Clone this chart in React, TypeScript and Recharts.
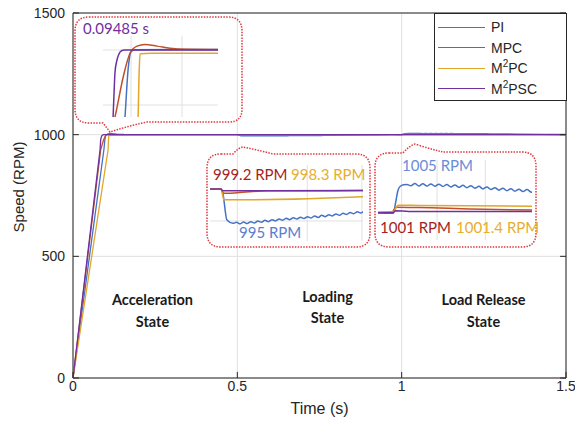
import React from 'react';
import { LineChart, Line, XAxis, YAxis, CartesianGrid, ReferenceLine, ReferenceArea } from 'recharts';

// speed traces, [time (s), speed (RPM)]
const piSpeed: [number, number][] = [
    [0, 0], [0.0941, 939.1], [0.0971, 982], [0.1, 998.5], [0.1039, 1000.3], [0.1853, 1000.4], [0.3, 1000], [0.5, 1000],
    [0.503, 999.6], [0.511, 995.44], [0.522, 994.95],
    [0.5285, 995.09], [0.535, 994.87], [0.5415, 995.13], [0.548, 994.91], [0.5545, 995.18], [0.561, 994.99],
    [0.5675, 995.28], [0.574, 995.1], [0.5805, 995.39], [0.587, 995.2], [0.5935, 995.49], [0.6, 995.31],
    [0.6065, 995.6], [0.613, 995.41], [0.6195, 995.69], [0.626, 995.49], [0.6325, 995.77], [0.639, 995.57],
    [0.6455, 995.85], [0.652, 995.65], [0.6585, 995.93], [0.665, 995.74], [0.6715, 996.02], [0.678, 995.82],
    [0.6845, 996.12], [0.691, 995.93], [0.6975, 996.22], [0.704, 996.04], [0.7105, 996.33], [0.717, 996.14],
    [0.7235, 996.44], [0.73, 996.25], [0.7365, 996.54], [0.743, 996.36], [0.7495, 996.65], [0.756, 996.46],
    [0.7625, 996.76], [0.85, 998.3], [0.93, 999.5], [0.97, 999.8], [0.99, 999.7], [1.0, 999.7],
    [1.004, 1001.5], [1.009, 1003.9], [1.0129, 1004.6], [1.02, 1004.9], [1.0265, 1004.95],
    [1.034, 1004.74], [1.0418, 1005.13], [1.0496, 1004.71], [1.0574, 1005.1], [1.0652, 1004.68], [1.073, 1005.07],
    [1.0808, 1004.66], [1.0886, 1005.03], [1.0964, 1004.6], [1.1042, 1004.96], [1.112, 1004.52], [1.1198, 1004.89],
    [1.1276, 1004.45], [1.1354, 1004.82], [1.1432, 1004.38], [1.151, 1004.74], [1.1588, 1004.28], [1.1666, 1004.62],
    [1.1744, 1004.16], [1.1822, 1004.5], [1.19, 1004.04], [1.1978, 1004.39], [1.2056, 1003.93], [1.2134, 1004.27],
    [1.2212, 1003.83], [1.229, 1004.19], [1.2368, 1003.75], [1.2446, 1004.11], [1.2524, 1003.67], [1.2602, 1004.03],
    [1.268, 1003.59], [1.35, 1002.5], [1.43, 1001.2], [1.5, 1000.6],
];

const mpcSpeed: [number, number][] = [
    [0, 0], [0.0843, 939.1], [0.0863, 948], [0.0922, 975], [0.099, 997], [0.1059, 1003.5], [0.1137, 1005],
    [0.1255, 1003.5], [0.1382, 1001.5], [0.1549, 1000.6], [0.1853, 1000.4], [0.3, 1000], [0.5, 1000],
    [0.504, 999.37], [0.53, 999.45], [0.584, 999.75], [0.97, 999.8], [0.997, 999.9], [1.005, 1000.8],
    [1.05, 1000.75], [1.15, 1000.5], [1.27, 1000.3], [1.5, 1000.1],
];

const m2pcSpeed: [number, number][] = [
    [0, 0], [0.1069, 939.1], [0.1078, 975], [0.1088, 996.6], [0.12, 997], [0.1853, 997], [0.3, 999.7], [0.5, 1000],
    [0.5056, 998.4], [0.76, 998.87], [0.9, 999.6], [0.97, 999.95], [1.0, 1000], [1.009, 1001.2],
    [1.05, 1001.15], [1.27, 1001.0], [1.5, 1000.4],
];

const m2pscSpeed: [number, number][] = [
    [0, 0], [0.0824, 939.1], [0.0833, 960], [0.0843, 980], [0.086, 990], [0.088, 996], [0.091, 999.5], [0.094, 1000],
    [0.5, 1000], [0.503, 999.75], [0.97, 999.8], [1.0, 999.85], [1.004, 1000.18], [1.03, 1000.05], [1.5, 1000],
];

const timeTicks = [0, 0.5, 1, 1.5];
const speedTicks = [0, 500, 1000, 1500];

const toPoints = (s: [number, number][]) => s.map(([t, v]) => ({ t, v }));

const series = [
    { name: 'PI', color: '#4472C4', points: toPoints(piSpeed) },
    { name: 'MPC', color: '#C0502A', points: toPoints(mpcSpeed) },
    { name: 'M2PC', color: '#E2A62A', points: toPoints(m2pcSpeed) },
    { name: 'M2PSC', color: '#7030A0', points: toPoints(m2pscSpeed) },
];

const AXIS = '#262626';
const GRID = '#e0e0e0';
const RED = '#E0393E';
const axisFont = { fill: AXIS, fontSize: 14, fontFamily: '"Liberation Sans", Arial, sans-serif' };

function Inset({ left, top, width, height, xDomain, yDomain, xGrid, yGrid }: {
    left: number; top: number; width: number; height: number;
    xDomain: [number, number]; yDomain: [number, number]; xGrid: number[]; yGrid: number[];
}) {
    return (
        <div style={{ position: 'absolute', left, top }}>
            <LineChart width={width} height={height} margin={{ top: 0, right: 0, bottom: 0, left: 0 }}>
                <XAxis type="number" dataKey="t" domain={xDomain} allowDataOverflow hide />
                <YAxis type="number" dataKey="v" domain={yDomain} allowDataOverflow hide />
                {xGrid.map(x => <ReferenceLine key={'x' + x} x={x} stroke={GRID} />)}
                {yGrid.map(y => <ReferenceLine key={'y' + y} y={y} stroke={GRID} />)}
                {series.map(s => (
                    <Line key={s.name} data={s.points} dataKey="v" type="monotone" stroke={s.color}
                        strokeWidth={1.5} dot={false} isAnimationActive={false} />
                ))}
            </LineChart>
        </div>
    );
}

export default function App() {
    const stateStyle = { fontFamily: 'Lato, sans-serif', fontWeight: 700, fontSize: 14.5, fill: '#1a1a1a' } as const;
    const noteStyle = { fontFamily: 'Lato, sans-serif', fontSize: 15 } as const;
    return (
        <div style={{ position: 'absolute', left: 0, top: 0, width: 575, height: 427, background: '#fff' }}>
            <LineChart width={575} height={427} margin={{ top: 13, right: 9, bottom: 0, left: 0 }}>
                <CartesianGrid stroke={GRID} />
                <XAxis type="number" dataKey="t" domain={[0, 1.5]} ticks={timeTicks} tickLine={false} axisLine={false}
                    tickSize={0} tickMargin={3} height={49} tick={axisFont} />
                <YAxis type="number" dataKey="v" domain={[0, 1500]} ticks={speedTicks} tickLine={false} axisLine={false}
                    tickSize={0} tickMargin={8} width={73} tick={axisFont} />
                {series.map(s => (
                    <Line key={s.name} data={s.points} dataKey="v" type="linear" stroke={s.color}
                        strokeWidth={1.3} dot={false} isAnimationActive={false} />
                ))}
                {/* inward ticks, MATLAB style */}
                {timeTicks.map(t => (
                    <ReferenceLine key={'bt' + t} segment={[{ x: t, y: 0 }, { x: t, y: 25 }]} stroke={AXIS} />
                ))}
                {speedTicks.map(v => (
                    <ReferenceLine key={'lt' + v} segment={[{ x: 0, y: v }, { x: 0.018, y: v }]} stroke={AXIS} />
                ))}
                {speedTicks.map(v => (
                    <ReferenceLine key={'rt' + v} segment={[{ x: 1.482, y: v }, { x: 1.5, y: v }]} stroke={AXIS} />
                ))}
                <ReferenceArea x1={0} x2={1.5} y1={0} y2={1500} fill="none" stroke={AXIS} strokeWidth={1} />
            </LineChart>

            <Inset left={103} top={36} width={115} height={81} xDomain={[0.0725, 0.1853]} yDomain={[939.1, 1012.7]}
                xGrid={[0.1, 0.15]} yGrid={[1000, 950]} />
            <Inset left={210} top={165} width={153} height={76} xDomain={[0.48, 0.76]} yDomain={[992.35, 1003.53]}
                xGrid={[0.658, 0.758]} yGrid={[995.3]} />
            <Inset left={378} top={160} width={154} height={80} xDomain={[0.97, 1.27]} yDomain={[994.84, 1009.43]}
                xGrid={[1.085, 1.179]} yGrid={[]} />

            <svg width={575} height={427} style={{ position: 'absolute', left: 0, top: 0, pointerEvents: 'none' }}>
                <g fill="none" stroke={RED} strokeWidth={1.5} strokeDasharray="1.5 1.3">
                    <path d="M89 17 H228 Q242 17 242 31 V109 Q242 122 229 122 H147 Q128 126 110 132 L103 123 H89 Q75 123 75 109 V31 Q75 17 89 17 Z" />
                    <path d="M221 154 H233 Q238 148 243 147 Q258 150 273 154 H356 Q370 154 370 168 V233 Q370 247 356 247 H221 Q207 247 207 233 V168 Q207 154 221 154 Z" />
                    <path d="M389 153 H403 Q409 146 415 144 Q430 149 443 152 H522 Q536 152 536 166 V233 Q536 247 522 247 H389 Q375 247 375 233 V167 Q375 153 389 153 Z" />
                </g>
                <text x={83} y={34} fill="#7030A0" style={noteStyle}>0.09485 s</text>
                <text x={213} y={180} fill="#A51E22" style={noteStyle}>999.2 RPM</text>
                <text x={291} y={180} fill="#E6AE2E" style={noteStyle}>998.3 RPM</text>
                <text x={239} y={238} fill="#5A7ECF" style={noteStyle}>995 RPM</text>
                <text x={402} y={171} fill="#6B8CD8" style={noteStyle}>1005 RPM</text>
                <text x={380} y={233} fill="#A51E22" style={noteStyle}>1001 RPM</text>
                <text x={456} y={233} fill="#E6AE2E" style={noteStyle}>1001.4 RPM</text>

                <g textAnchor="middle" style={stateStyle}>
                    <text x={152.5} y={305}>Acceleration</text>
                    <text x={152.5} y={327}>State</text>
                    <text x={327.5} y={302}>Loading</text>
                    <text x={327.5} y={323}>State</text>
                    <text x={483.5} y={305}>Load Release</text>
                    <text x={483.5} y={327}>State</text>
                </g>

                <text x={319.5} y={414} textAnchor="middle" style={{ ...axisFont, fontSize: 16 }}>Time (s)</text>
                <text x={18} y={187} textAnchor="middle" dominantBaseline="central" transform="rotate(-90 18 187)"
                    style={{ ...axisFont, fontSize: 15 }}>Speed (RPM)</text>
            </svg>

            <div style={{
                position: 'absolute', left: 434, top: 13, width: 131, height: 86, background: '#fff',
                border: `1px solid ${AXIS}`, fontFamily: '"Liberation Sans", Arial, sans-serif', fontSize: 14, color: AXIS,
            }}>
                {series.map((s, i) => (
                    <div key={s.name} style={{ position: 'absolute', left: 3, top: 4 + i * 20.5, height: 18, display: 'flex', alignItems: 'center' }}>
                        <div style={{ width: 47, height: 0, borderTop: `1.3px solid ${s.color}` }} />
                        <span style={{ marginLeft: 6, lineHeight: '18px' }}>
                            {s.name.startsWith('M2') ? (<>M<sup style={{ fontSize: 10, lineHeight: 0 }}>2</sup>{s.name.slice(2)}</>) : s.name}
                        </span>
                    </div>
                ))}
            </div>
        </div>
    );
}
